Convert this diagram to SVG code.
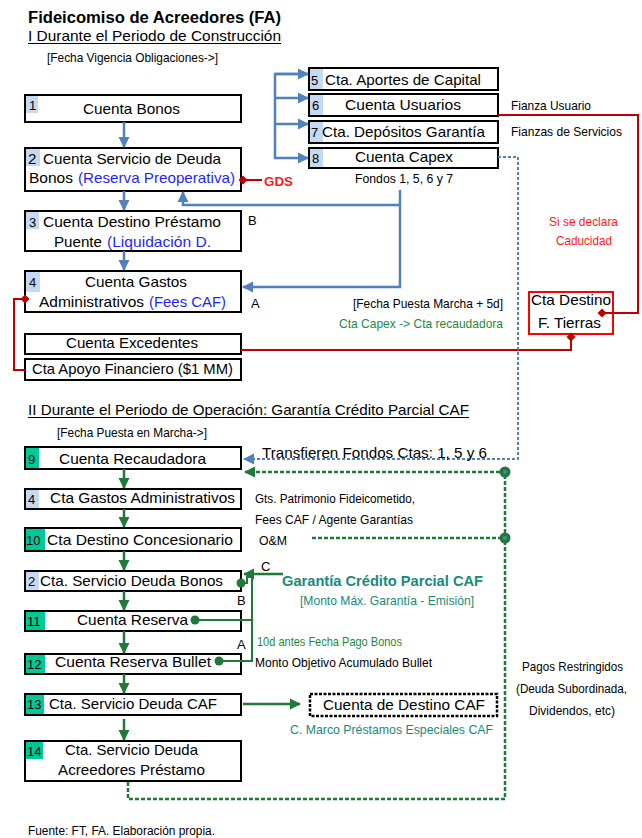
<svg xmlns="http://www.w3.org/2000/svg" width="642" height="838" viewBox="0 0 642 838">
<style>
text{font-family:"Liberation Sans",Arial,sans-serif;fill:#000}
.bt{font-size:15px}
.nm{font-size:13px}
.lb{font-size:13px}
.blue{fill:#1f1fff}
.grn{fill:#1e8a3c}
.teal{fill:#178a7a}
.red{fill:#ff1a1a}
.box{fill:#fff;stroke:#000;stroke-width:2}
.bb{fill:#c5d9f1}
.gb{fill:#00c896}
.lblue{fill:none;stroke:#4f81bd;stroke-width:2.5}
.lgrn{fill:none;stroke:#1f7a3a;stroke-width:2.5}
.lred{fill:none;stroke:#c00000;stroke-width:2}
.dblue{fill:none;stroke:#4f81bd;stroke-width:2;stroke-dasharray:3 2}
.dgrn{fill:none;stroke:#1f7a3a;stroke-width:2.5;stroke-dasharray:4 2}
</style>
<defs>
<marker id="ab" markerUnits="userSpaceOnUse" markerWidth="12" markerHeight="12" refX="10" refY="6" orient="auto"><path d="M0,0.5 L11,6 L0,11.5 z" fill="#4f81bd"/></marker>
<marker id="ag" markerUnits="userSpaceOnUse" markerWidth="12" markerHeight="12" refX="10" refY="6" orient="auto"><path d="M0,0.5 L11,6 L0,11.5 z" fill="#1f7a3a"/></marker>
<marker id="rd" markerUnits="userSpaceOnUse" markerWidth="12" markerHeight="12" refX="6" refY="6" orient="auto"><path d="M1.5,6 L6,1.5 L10.5,6 L6,10.5 z" fill="#c00000"/></marker>
</defs>

<g id="titles">
<text x="28" y="23" style="font-size:16px;font-weight:bold" textLength="253" lengthAdjust="spacingAndGlyphs">Fideicomiso de Acreedores (FA)</text>
<text x="28" y="41" style="font-size:14.5px" textLength="253" lengthAdjust="spacingAndGlyphs">I Durante el Periodo de Construcción</text>
<line x1="28" y1="43.5" x2="281" y2="43.5" stroke="#000" stroke-width="1"/>
<text x="47" y="62" class="lb" textLength="171" lengthAdjust="spacingAndGlyphs">[Fecha Vigencia Obligaciones-&gt;]</text>
<text x="28" y="415" style="font-size:14.5px" textLength="441" lengthAdjust="spacingAndGlyphs">II Durante el Periodo de Operación: Garantía Crédito Parcial CAF</text>
<line x1="28" y1="417.5" x2="469" y2="417.5" stroke="#000" stroke-width="1"/>
<text x="57" y="437" class="lb" textLength="150" lengthAdjust="spacingAndGlyphs">[Fecha Puesta en Marcha-&gt;]</text>
<text x="28" y="835" style="font-size:12px" textLength="187" lengthAdjust="spacingAndGlyphs">Fuente: FT, FA. Elaboración propia.</text>
</g>

<g id="n1"><rect class="box" x="25" y="95" width="216" height="27"/><rect class="bb" x="26" y="96" width="12" height="17"/>
<text x="29" y="110" class="nm">1</text><text x="83" y="114" class="bt" textLength="97" lengthAdjust="spacingAndGlyphs">Cuenta Bonos</text></g>
<g id="n2"><rect class="box" x="25" y="148" width="216" height="43"/><rect class="bb" x="26" y="149" width="14" height="17"/>
<text x="28" y="164" class="bt">2</text><text x="43" y="164" class="bt" textLength="178" lengthAdjust="spacingAndGlyphs">Cuenta Servicio de Deuda</text>
<text x="29" y="183" class="bt" textLength="44" lengthAdjust="spacingAndGlyphs">Bonos</text><text x="78" y="183" class="bt blue" textLength="157" lengthAdjust="spacingAndGlyphs">(Reserva Preoperativa)</text></g>
<g id="n3"><rect class="box" x="25" y="211" width="216" height="40"/><rect class="bb" x="26" y="212" width="13" height="17"/>
<text x="29" y="227" class="nm">3</text><text x="43" y="227" class="bt" textLength="178" lengthAdjust="spacingAndGlyphs">Cuenta Destino Préstamo</text>
<text x="54" y="247" class="bt" textLength="48" lengthAdjust="spacingAndGlyphs">Puente</text><text x="107" y="247" class="bt blue" textLength="104" lengthAdjust="spacingAndGlyphs">(Liquidación D.</text></g>
<g id="n4"><rect class="box" x="25" y="271" width="216" height="41"/><rect class="bb" x="26" y="272" width="14" height="20"/>
<text x="29" y="287" class="nm">4</text><text x="85" y="287" class="bt" textLength="102" lengthAdjust="spacingAndGlyphs">Cuenta Gastos</text>
<text x="39" y="307" class="bt" textLength="105" lengthAdjust="spacingAndGlyphs">Administrativos</text><text x="149" y="307" class="bt blue" textLength="77" lengthAdjust="spacingAndGlyphs">(Fees CAF)</text></g>
<g id="nexc"><rect class="box" x="25" y="334" width="216" height="20"/>
<text x="66" y="348" class="bt" textLength="132" lengthAdjust="spacingAndGlyphs">Cuenta Excedentes</text></g>
<g id="napoyo"><rect class="box" x="25" y="359" width="216" height="21"/>
<text x="32" y="374" class="bt" textLength="201" lengthAdjust="spacingAndGlyphs">Cta Apoyo Financiero ($1 MM)</text></g>
<g id="n5"><rect class="box" x="309" y="68" width="189" height="22"/><rect class="bb" x="310" y="69" width="13" height="20"/>
<text x="311" y="85" class="nm">5</text><text x="325" y="85" class="bt" textLength="156" lengthAdjust="spacingAndGlyphs">Cta. Aportes de Capital</text></g>
<g id="n6"><rect class="box" x="309" y="94" width="189" height="22"/><rect class="bb" x="310" y="95" width="13" height="20"/>
<text x="312" y="110" class="nm">6</text><text x="345" y="110" class="bt" textLength="116" lengthAdjust="spacingAndGlyphs">Cuenta Usuarios</text></g>
<g id="n7"><rect class="box" x="309" y="121" width="189" height="22"/><rect class="bb" x="310" y="122" width="13" height="20"/>
<text x="311" y="137" class="nm">7</text><text x="322" y="137" class="bt" textLength="163" lengthAdjust="spacingAndGlyphs">Cta. Depósitos Garantía</text></g>
<g id="n8"><rect class="box" x="309" y="148" width="189" height="20"/><rect class="bb" x="310" y="149" width="13" height="18"/>
<text x="312" y="163" class="nm">8</text><text x="355" y="162" class="bt" textLength="98" lengthAdjust="spacingAndGlyphs">Cuenta Capex</text></g>
<g id="ntierras"><rect x="529" y="292" width="84" height="42" fill="#fff" stroke="#ff0000" stroke-width="2"/>
<text x="531" y="305" class="bt" textLength="80" lengthAdjust="spacingAndGlyphs">Cta Destino</text>
<text x="538" y="328" class="bt" textLength="63" lengthAdjust="spacingAndGlyphs">F. Tierras</text></g>

<g id="n9"><rect class="box" x="25" y="447" width="216" height="22"/><rect class="gb" x="26" y="448" width="13" height="20"/>
<text x="28" y="464" class="nm">9</text><text x="59" y="464" class="bt" textLength="147" lengthAdjust="spacingAndGlyphs">Cuenta Recaudadora</text></g>
<g id="n4b"><rect class="box" x="25" y="489" width="216" height="20"/><rect class="bb" x="26" y="490" width="13" height="18"/>
<text x="28" y="504" class="nm">4</text><text x="50" y="503" class="bt" textLength="185" lengthAdjust="spacingAndGlyphs">Cta Gastos Administrativos</text></g>
<g id="n10"><rect class="box" x="25" y="528" width="216" height="23"/><rect class="gb" x="26" y="529" width="19" height="21"/>
<text x="26" y="545" class="nm">10</text><text x="47" y="545" class="bt" textLength="186" lengthAdjust="spacingAndGlyphs">Cta Destino Concesionario</text></g>
<g id="n2b"><rect class="box" x="25" y="571" width="216" height="20"/><rect class="bb" x="26" y="572" width="13" height="18"/>
<text x="28" y="586" class="nm">2</text><text x="40" y="586" class="bt" textLength="183" lengthAdjust="spacingAndGlyphs">Cta. Servicio Deuda Bonos</text></g>
<g id="n11"><rect class="box" x="25" y="611" width="216" height="20"/><rect class="gb" x="26" y="612" width="19" height="18"/>
<text x="27" y="626" class="nm">11</text><text x="77" y="625" class="bt" textLength="111" lengthAdjust="spacingAndGlyphs">Cuenta Reserva</text></g>
<g id="n12"><rect class="box" x="25" y="654" width="216" height="20"/><rect class="gb" x="26" y="655" width="19" height="18"/>
<text x="27" y="669" class="nm">12</text><text x="55" y="667" class="bt" textLength="156" lengthAdjust="spacingAndGlyphs">Cuenta Reserva Bullet</text></g>
<g id="n13"><rect class="box" x="25" y="694" width="216" height="21"/><rect class="gb" x="26" y="695" width="18" height="19"/>
<text x="27" y="709" class="nm">13</text><text x="49" y="709" class="bt" textLength="168" lengthAdjust="spacingAndGlyphs">Cta. Servicio Deuda CAF</text></g>
<g id="n14"><rect class="box" x="25" y="741" width="216" height="40"/><rect class="gb" x="26" y="742" width="17" height="17"/>
<text x="27" y="756" class="nm">14</text><text x="65" y="755" class="bt" textLength="133" lengthAdjust="spacingAndGlyphs">Cta. Servicio Deuda</text>
<text x="58" y="775" class="bt" textLength="147" lengthAdjust="spacingAndGlyphs">Acreedores Préstamo</text></g>
<g id="ncafdest"><rect x="310" y="694" width="187" height="22" fill="#fff" stroke="#000" stroke-width="2.5" stroke-dasharray="3 1.5"/>
<text x="323" y="710" class="bt" textLength="162" lengthAdjust="spacingAndGlyphs">Cuenta de Destino CAF</text></g>

<g id="connectors">
<path class="lblue" d="M124,122 V147" marker-end="url(#ab)"/>
<path class="lblue" d="M124,191 V210" marker-end="url(#ab)"/>
<path class="lblue" d="M124,251 V270" marker-end="url(#ab)"/>
<path class="lblue" d="M400,190 V287 H243" marker-end="url(#ab)"/>
<path class="lblue" d="M400,205 H183 V192" marker-end="url(#ab)"/>
<path class="lblue" d="M308,74 H275 V158 H308" marker-end="url(#ab)"/>
<path class="lblue" d="M275,74 H308" marker-end="url(#ab)"/>
<path class="lblue" d="M275,98 H308" marker-end="url(#ab)"/>
<path class="lblue" d="M275,124 H308" marker-end="url(#ab)"/>
<path class="lred" d="M498,115 H638 V313 H602" marker-end="url(#rd)"/>
<path class="lred" d="M241,350 H571 V337" marker-end="url(#rd)"/>
<path class="lred" d="M25,370 H14 V299 H25" marker-end="url(#rd)"/>
<path class="lred" d="M262,180 H243" marker-end="url(#rd)"/>
<path class="dblue" d="M498,157 H518 V459 H244" marker-end="url(#ab)"/>
<path class="lgrn" d="M124,469 V488" marker-end="url(#ag)"/>
<path class="lgrn" d="M124,509 V527" marker-end="url(#ag)"/>
<path class="lgrn" d="M124,551 V570" marker-end="url(#ag)"/>
<path class="lgrn" d="M124,591 V610" marker-end="url(#ag)"/>
<path class="lgrn" d="M124,631 V653" marker-end="url(#ag)"/>
<path class="lgrn" d="M124,674 V693" marker-end="url(#ag)"/>
<path class="lgrn" d="M124,719 V740" marker-end="url(#ag)"/>
<path class="lgrn" d="M243,704 H300" marker-end="url(#ag)"/>
<path class="lgrn" d="M283,574 H244" marker-end="url(#ag)"/>
<path class="dgrn" d="M128,782 V799 H505 V472 H245" marker-end="url(#ag)"/>
<path class="dgrn" d="M312,538 H505"/>
<path fill="none" stroke="#1f7a3a" stroke-width="2" d="M241,583 H247 V577 H252 V661 H219 M195,620 H252"/>
<circle cx="241" cy="583" r="4.5" fill="#1f7a3a"/>
<circle cx="195" cy="620" r="4.5" fill="#1f7a3a"/>
<circle cx="219" cy="661" r="4.5" fill="#1f7a3a"/>
<circle cx="505" cy="472" r="5.5" fill="#1f7a3a"/>
<circle cx="505" cy="472" r="2" fill="#4f81bd"/>
<circle cx="505" cy="538" r="5.5" fill="#1f7a3a"/>
<circle cx="505" cy="538" r="2" fill="#4f81bd"/>
</g>

<g id="labels">
<text x="264" y="186" style="font-size:13px;font-weight:bold" class="red" textLength="29" lengthAdjust="spacingAndGlyphs">GDS</text>
<text x="355" y="183" class="lb" textLength="98" lengthAdjust="spacingAndGlyphs">Fondos 1, 5, 6 y 7</text>
<text x="511" y="110" class="lb" textLength="80" lengthAdjust="spacingAndGlyphs">Fianza Usuario</text>
<text x="511" y="136" class="lb" textLength="111" lengthAdjust="spacingAndGlyphs">Fianzas de Servicios</text>
<text x="248" y="225" class="lb">B</text>
<text x="251" y="308" class="lb">A</text>
<text x="549" y="226" class="lb red" textLength="69" lengthAdjust="spacingAndGlyphs">Si se declara</text>
<text x="556" y="245" class="lb red" textLength="56" lengthAdjust="spacingAndGlyphs">Caducidad</text>
<text x="353" y="308" class="lb" textLength="150" lengthAdjust="spacingAndGlyphs">[Fecha Puesta Marcha + 5d]</text>
<text x="339" y="328" class="lb grn" textLength="164" lengthAdjust="spacingAndGlyphs">Cta Capex -&gt; Cta recaudadora</text>
<text x="262" y="458" class="bt" textLength="225" lengthAdjust="spacingAndGlyphs">Transfieren Fondos Ctas: 1, 5 y 6</text>
<text x="255" y="503" class="lb" textLength="160" lengthAdjust="spacingAndGlyphs">Gts. Patrimonio Fideicometido,</text>
<text x="255" y="524" class="lb" textLength="158" lengthAdjust="spacingAndGlyphs">Fees CAF / Agente Garantías</text>
<text x="259" y="545" class="lb" textLength="28" lengthAdjust="spacingAndGlyphs">O&amp;M</text>
<text x="261" y="571" class="lb">C</text>
<text x="282" y="586" style="font-size:14px;font-weight:bold" class="teal" textLength="201" lengthAdjust="spacingAndGlyphs">Garantía Crédito Parcial CAF</text>
<text x="300" y="605" class="lb teal" textLength="174" lengthAdjust="spacingAndGlyphs">[Monto Máx. Garantía - Emisión]</text>
<text x="237" y="605" class="lb">B</text>
<text x="237" y="649" class="lb">A</text>
<text x="257" y="646" class="lb grn" textLength="145" lengthAdjust="spacingAndGlyphs">10d antes Fecha Pago Bonos</text>
<text x="255" y="667" class="lb" textLength="177" lengthAdjust="spacingAndGlyphs">Monto Objetivo Acumulado Bullet</text>
<text x="522" y="671" class="lb" textLength="101" lengthAdjust="spacingAndGlyphs">Pagos Restringidos</text>
<text x="516" y="693" class="lb" textLength="111" lengthAdjust="spacingAndGlyphs">(Deuda Subordinada,</text>
<text x="529" y="715" class="lb" textLength="86" lengthAdjust="spacingAndGlyphs">Dividendos, etc)</text>
<text x="290" y="734" class="lb teal" textLength="203" lengthAdjust="spacingAndGlyphs">C. Marco Préstamos Especiales CAF</text>
</g>
</svg>
